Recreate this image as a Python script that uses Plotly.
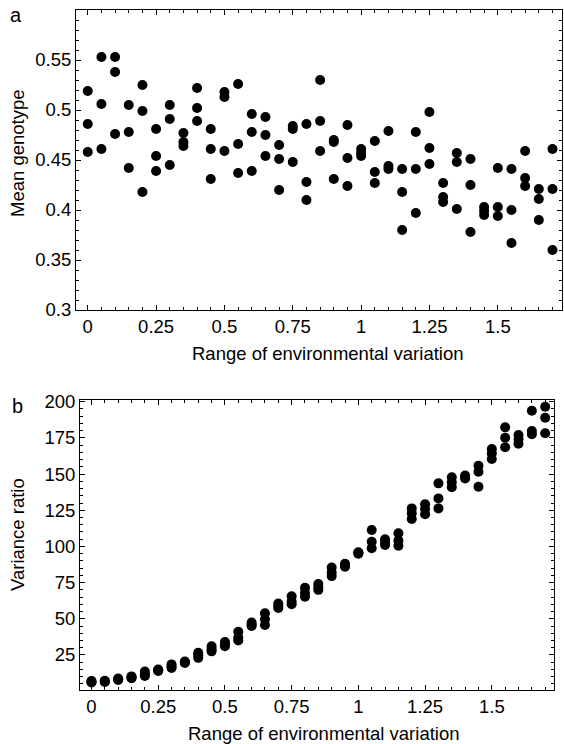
import plotly.graph_objects as go

# ---------------- data ----------------
env_range = [0.0, 0.05, 0.1, 0.15, 0.2, 0.25, 0.3, 0.35, 0.4, 0.45, 0.5, 0.55,
             0.6, 0.65, 0.7, 0.75, 0.8, 0.85, 0.9, 0.95, 1.0, 1.05, 1.1, 1.15,
             1.2, 1.25, 1.3, 1.35, 1.4, 1.45, 1.5, 1.55, 1.6, 1.65, 1.7]

# three replicate runs per environmental range (panel a)
mean_genotype = [
    [0.519, 0.486, 0.458], [0.553, 0.506, 0.461], [0.553, 0.538, 0.476],
    [0.505, 0.478, 0.442], [0.525, 0.499, 0.418], [0.481, 0.454, 0.439],
    [0.505, 0.491, 0.445], [0.477, 0.468, 0.464], [0.522, 0.502, 0.489],
    [0.481, 0.461, 0.431], [0.518, 0.513, 0.459], [0.526, 0.466, 0.437],
    [0.496, 0.478, 0.439], [0.493, 0.475, 0.454], [0.465, 0.451, 0.420],
    [0.484, 0.481, 0.448], [0.486, 0.428, 0.410], [0.530, 0.489, 0.459],
    [0.470, 0.468, 0.431], [0.485, 0.452, 0.424], [0.461, 0.457, 0.454],
    [0.469, 0.438, 0.427], [0.479, 0.444, 0.441], [0.441, 0.418, 0.380],
    [0.478, 0.441, 0.397], [0.498, 0.462, 0.446], [0.427, 0.413, 0.408],
    [0.457, 0.448, 0.401], [0.451, 0.425, 0.378], [0.403, 0.399, 0.395],
    [0.442, 0.403, 0.394], [0.441, 0.400, 0.367], [0.459, 0.432, 0.424],
    [0.421, 0.411, 0.390], [0.461, 0.421, 0.360],
]

# three replicate runs per environmental range (panel b)
variance_ratio = [
    [7.0, 6.5, 6.0], [7.2, 6.7, 6.4], [8.8, 8.2, 7.7], [10.2, 9.5, 9.0],
    [13.5, 11.8, 10.5], [15.0, 14.5, 14.0], [18.5, 17.0, 16.0], [20.5, 20.0, 19.5],
    [26.5, 25.0, 23.0], [31.0, 29.0, 27.5], [34.0, 32.5, 31.0], [41.0, 37.0, 35.0],
    [47.5, 46.0, 45.0], [53.8, 49.7, 45.7], [60.5, 59.0, 57.5], [65.5, 62.0, 60.0],
    [71.5, 68.0, 65.3], [74.0, 72.0, 70.0], [85.5, 82.0, 79.5], [88.0, 87.0, 86.0],
    [96.0, 95.5, 95.0], [111.4, 103.3, 98.7], [105.0, 103.0, 101.0], [109.1, 104.0, 100.5],
    [126.3, 122.9, 119.0], [129.1, 125.9, 122.2], [143.6, 133.2, 126.3], [147.8, 144.3, 140.9],
    [149.0, 148.0, 147.0], [155.8, 151.6, 141.3], [167.3, 164.3, 160.4], [182.3, 175.1, 168.5],
    [177.0, 174.0, 171.0], [193.8, 179.8, 177.5], [196.5, 188.9, 178.2],
]

x_ticks = [0, 0.25, 0.5, 0.75, 1, 1.25, 1.5]
x_ticktext = ["0", "0.25", "0.5", "0.75", "1", "1.25", "1.5"]
ya_ticks = [0.3, 0.35, 0.4, 0.45, 0.5, 0.55]
ya_ticktext = ["0.3", "0.35", "0.4", "0.45", "0.5", "0.55"]
yb_ticks = [25, 50, 75, 100, 125, 150, 175, 200]
yb_ticktext = ["25", "50", "75", "100", "125", "150", "175", "200"]

x_title = "Range of environmental variation"
ya_title = "Mean genotype"
yb_title = "Variance ratio"

# ---------------- figure ----------------
W, H = 564, 744
FONT = "Liberation Sans, Arial, sans-serif"
FS = 18.5


def px(xp):
    return xp / W


def py(yp):
    return 1 - yp / H


xs_a, ys_a, xs_b, ys_b = [], [], [], []
for xv, trip in zip(env_range, mean_genotype):
    for v in trip:
        xs_a.append(xv)
        ys_a.append(v)
for xv, trip in zip(env_range, variance_ratio):
    for v in trip:
        xs_b.append(xv)
        ys_b.append(v)

fig = go.Figure()
marker = dict(color="black", size=10, line=dict(width=0))
fig.add_trace(go.Scatter(x=xs_a, y=ys_a, mode="markers", marker=marker,
                         xaxis="x", yaxis="y", showlegend=False, cliponaxis=False,
                         hoverinfo="skip"))
fig.add_trace(go.Scatter(x=xs_b, y=ys_b, mode="markers", marker=marker,
                         xaxis="x2", yaxis="y2", showlegend=False, cliponaxis=False,
                         hoverinfo="skip"))

common = dict(showline=True, linecolor="black", linewidth=1, mirror="ticks",
              ticks="inside", ticklen=5, tickwidth=1, tickcolor="black",
              showgrid=False, zeroline=False, automargin=False,
              tickfont=dict(family=FONT, size=FS, color="black"))

fig.update_layout(
    width=W, height=H,
    margin=dict(l=0, r=0, t=0, b=0),
    paper_bgcolor="white", plot_bgcolor="white",
    font=dict(family=FONT, size=FS, color="black"),
    hovermode=False,
    xaxis=dict(domain=[px(76), px(561.5)], range=[-0.043, 1.733], anchor="y",
               tickmode="array", tickvals=x_ticks, ticktext=x_ticktext,
               minor=dict(ticks="inside", ticklen=3, tickcolor="black",
                          tickmode="linear", tick0=0, dtick=0.05),
               **common),
    yaxis=dict(domain=[py(310), py(10)], range=[0.3, 0.6], anchor="x",
               tickmode="array", tickvals=ya_ticks, ticktext=ya_ticktext,
               minor=dict(ticks="inside", ticklen=3, tickcolor="black",
                          tickmode="linear", tick0=0, dtick=0.01),
               **common),
    xaxis2=dict(domain=[px(80), px(554)], range=[-0.043, 1.733], anchor="y2",
                tickmode="array", tickvals=x_ticks, ticktext=x_ticktext,
                minor=dict(ticks="inside", ticklen=3, tickcolor="black",
                           tickmode="linear", tick0=0, dtick=0.05),
                **common),
    yaxis2=dict(domain=[py(690), py(400)], range=[0.8, 201.2], anchor="x2",
                tickmode="array", tickvals=yb_ticks, ticktext=yb_ticktext,
                minor=dict(ticks="inside", ticklen=3, tickcolor="black",
                           tickmode="linear", tick0=0, dtick=5),
                **common),
)


def label(text, x, y, angle=0, size=FS):
    fig.add_annotation(text=text, x=px(x), y=py(y), xref="paper", yref="paper",
                       xanchor="center", yanchor="middle", showarrow=False,
                       textangle=angle,
                       font=dict(family=FONT, size=size, color="black"))


label(x_title, 328, 353)
label(x_title, 324, 733)
label(ya_title, 17, 153, angle=-90)
label(yb_title, 17, 535, angle=-90)
label("a", 16, 15, size=20)
label("b", 17, 406, size=20)

fig.write_html("out.html",
               config={"displayModeBar": False, "staticPlot": True},
               post_script="document.body.style.margin='0px';document.body.style.overflow='hidden';")
